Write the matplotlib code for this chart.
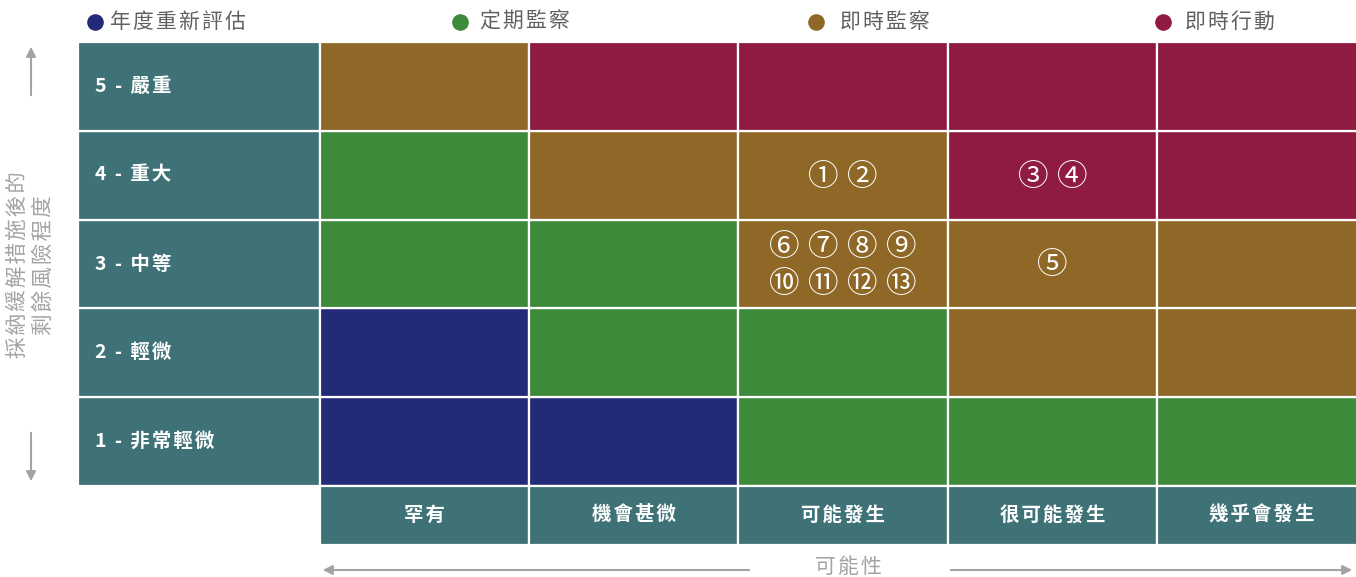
import matplotlib
matplotlib.use("Agg")
import matplotlib.pyplot as plt
from matplotlib.patches import Rectangle

plt.rcParams['font.family'] = ['Noto Sans CJK TC', 'DejaVu Sans']

# colours
TEAL = '#3e7277'
C = {'N': '#232a78', 'G': '#3e8a3b', 'B': '#8f6828', 'R': '#8f1b40'}

# data
severity = ['1 - 非常輕微', '2 - 輕微', '3 - 中等', '4 - 重大', '5 - 嚴重']
likelihood = ['罕有', '機會甚微', '可能發生', '很可能發生', '幾乎會發生']
# rows bottom (1) -> top (5), columns left -> right
grid = [
    ['N', 'N', 'G', 'G', 'G'],
    ['N', 'G', 'G', 'B', 'B'],
    ['G', 'G', 'B', 'B', 'B'],
    ['G', 'B', 'B', 'R', 'R'],
    ['B', 'R', 'R', 'R', 'R'],
]
legend_labels = ['年度重新評估', '定期監察', '即時監察', '即時行動']
legend_keys = ['N', 'G', 'B', 'R']
# risks placed in (row, col), rows/cols 0-based from bottom-left
risks = {
    (3, 2): [[1, 2]],
    (3, 3): [[3, 4]],
    (2, 2): [[6, 7, 8, 9], [10, 11, 12, 13]],
    (2, 3): [[5]],
}
y_title = ['採納緩解措施後的', '剩餘風險程度']
x_title = '可能性'


def spaced(s, sep='\u200a'):
    # a little letter spacing like the original
    return sep.join(s)


# pixel layout -> data units (one cell = 1 x 1)
PX, PY = 209.25, 88.8
fig = plt.figure(figsize=(13.56, 5.77), dpi=100)
ax = fig.add_axes([0, 0, 1, 1])
ax.set_xlim(-320 / PX, (1356 - 320) / PX)
ax.set_ylim(-(577 - 486) / PY, 486 / PY)
ax.axis('off')

def u(px):
    return (px - 320) / PX

def v(py):
    return (486 - py) / PY

lab_w = (320 - 78) / PX
head_h = 0.66

for r in range(5):
    # row label cell
    ax.add_patch(Rectangle((-lab_w, r), lab_w, 1, facecolor=TEAL,
                           edgecolor='white', lw=1.6))
    ax.text(u(95), r + 0.5, spaced(severity[r]), color='white', fontsize=14,
            fontweight='bold', ha='left', va='center')
    for c in range(5):
        ax.add_patch(Rectangle((c, r), 1, 1, facecolor=C[grid[r][c]],
                               edgecolor='white', lw=1.6))

for c in range(5):
    ax.add_patch(Rectangle((c, -head_h), 1, head_h, facecolor=TEAL,
                           edgecolor='white', lw=1.6))
    ax.text(c + 0.5, -head_h / 2, spaced(likelihood[c]), color='white',
            fontsize=14, fontweight='bold', ha='center', va='center')

# circled risk numbers
dx, dy = 39 / PX, 37 / PY
for (r, c), lines in risks.items():
    n_lines = len(lines)
    for li, nums in enumerate(lines):
        for k, n in enumerate(nums):
            ax.text(c + 0.5 + (k - (len(nums) - 1) / 2) * dx,
                    r + 0.5 - (li - (n_lines - 1) / 2) * dy - 2 / PY,
                    chr(0x245F + n), color='white', fontsize=22,
                    fontweight='light', ha='center', va='center')

# legend
leg_x = [95, 460, 816, 1163]
leg_gap = [13, 18, 22, 20]
for x, g, lab, key in zip(leg_x, leg_gap, legend_labels, legend_keys):
    ax.scatter([u(x)], [v(22)], s=120, color=C[key], clip_on=False, zorder=3)
    ax.text(u(x + 7 + g - 5), v(22), spaced(lab), color='#606060',
            fontsize=15, fontweight='light', ha='left', va='center')

# axis titles and arrows
grey = '#a3a3a3'
ax.text(u(31), v(265), '\n'.join(spaced(t) for t in y_title), color=grey,
        fontsize=15.5, rotation=90, ha='center', va='center',
        linespacing=1.2, multialignment='center')
arr = dict(arrowstyle='-|>', color=grey, lw=1.5, mutation_scale=14)
ax.annotate('', xy=(u(31), v(44)), xytext=(u(31), v(98)), arrowprops=arr)
ax.annotate('', xy=(u(31), v(484)), xytext=(u(31), v(430)), arrowprops=arr)

ax.text(u(848), v(567), spaced(x_title), color=grey, fontsize=15,
        ha='center', va='center')
ax.annotate('', xy=(u(320), v(570)), xytext=(u(752), v(570)), arrowprops=arr)
ax.annotate('', xy=(u(1355), v(570)), xytext=(u(948), v(570)), arrowprops=arr)

fig.savefig('out.png', dpi=100)
